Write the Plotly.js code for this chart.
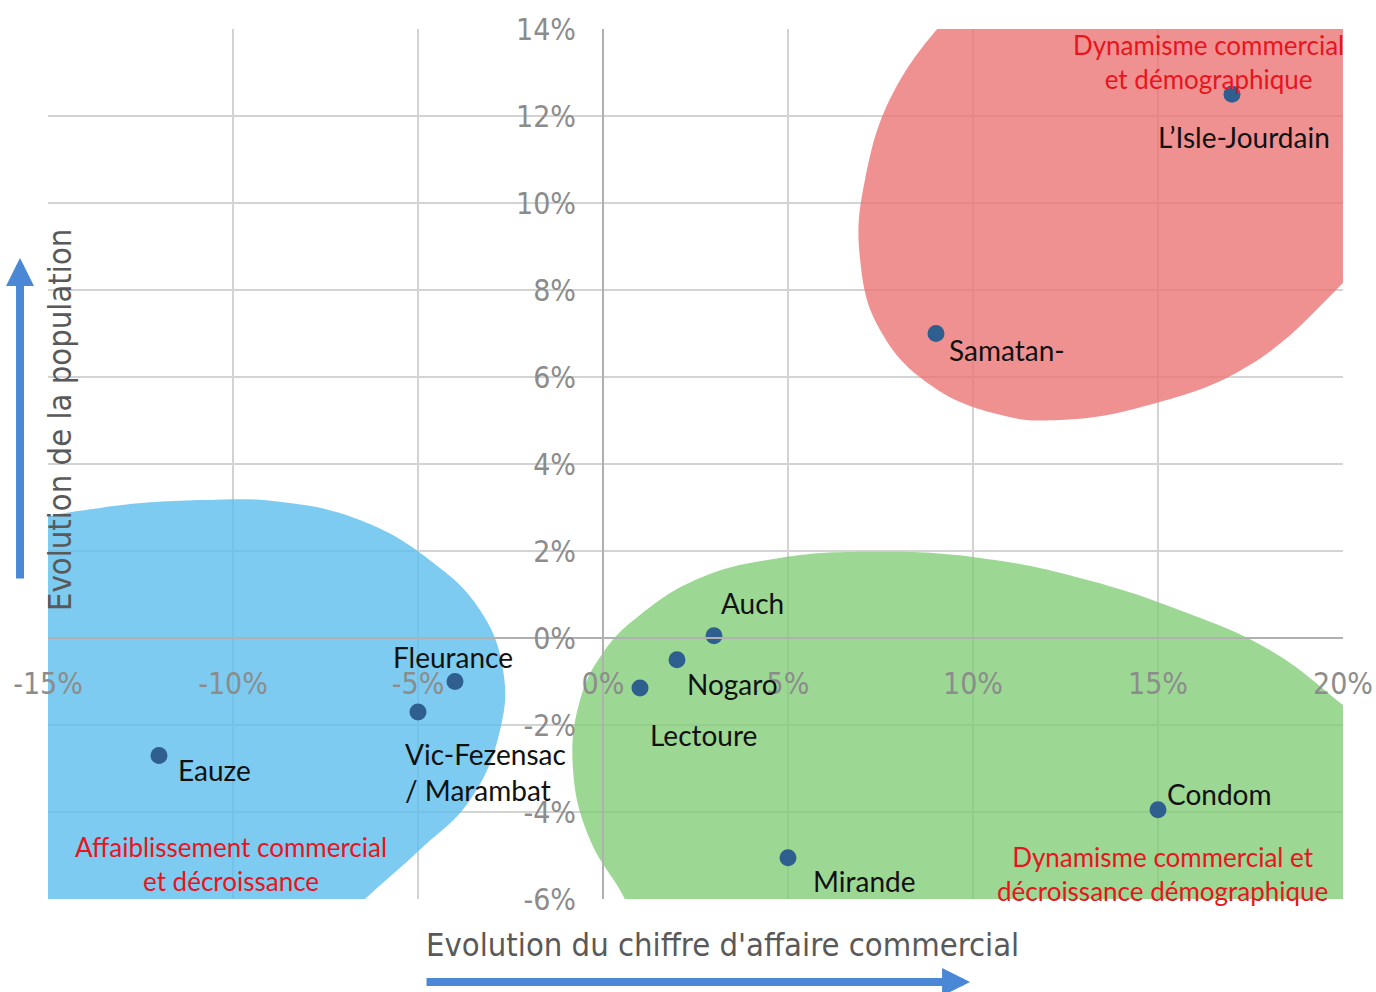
<!DOCTYPE html>
<html>
<head>
<meta charset="utf-8">
<script src="https://cdn.plot.ly/plotly-3.0.1.min.js"></script>
<style>html,body{margin:0;padding:0;background:#fff;}#chart{width:1376px;height:992px;}</style>
</head>
<body>
<div id="chart"></div>
<script>
// ---- Data ----
const towns = ["L\u2019Isle-Jourdain", "Samatan-", "Auch", "Nogaro", "Lectoure", "Fleurance", "Vic-Fezensac<br>/ Marambat", "Eauze", "Mirande", "Condom"];
const caEvolution = [17, 9, 3, 2, 1, -4, -5, -12, 5, 15];          // % change in commercial turnover
const popEvolution = [12.5, 7, 0.05, -0.5, -1.15, -1.0, -1.7, -2.7, -5.05, -3.95]; // % change in population

const xTickValues = [-15, -10, -5, 0, 5, 10, 15, 20];
const yTickValues = [-6, -4, -2, 0, 2, 4, 6, 8, 10, 12, 14];

const zoneLabels = [
  "Dynamisme commercial<br>et démographique",
  "Affaiblissement commercial<br>et décroissance",
  "Dynamisme commercial et<br>décroissance démographique"
];
const xTitle = "Evolution du chiffre d'affaire commercial";
const yTitle = "Evolution de la population";

// zone outlines (data units)
const redZoneX = [10.3, 8.03, 7.08, 6.95, 7.49, 8.84, 10.73, 12.35, 14.78, 17.49, 20.0, 21.54, 22.08, 18.84, 13.43];
const redZoneY = [15.13, 12.83, 10.53, 8.69, 7.08, 5.82, 5.13, 5.01, 5.36, 6.28, 8.16, 9.61, 13.52, 15.59, 16.05];
const blueZoneX = [-17.65, -15.76, -13.59, -10.89, -8.73, -6.57, -4.68, -3.32, -2.70, -2.78, -3.59, -4.95, -6.43, -8.19, -17.65];
const blueZoneY = [1.79, 2.60, 2.99, 3.17, 3.13, 2.71, 1.79, 0.64, -0.74, -2.11, -3.72, -4.87, -6.0, -7.40, -7.86];
const greenZoneX = [22.08, 1.27, 0.59, -0.35, -0.81, -0.62, 0.05, 1.0, 2.62, 4.78, 7.49, 10.19, 12.89, 15.59, 18.03, 20.0, 22.08];
const greenZoneY = [-7.86, -7.40, -6.0, -4.64, -3.03, -1.43, -0.28, 0.53, 1.38, 1.84, 1.98, 1.84, 1.38, 0.64, -0.28, -1.54, -3.03];

// ---- label placement (pixels) ----
const labelPlacement = [
  {xanchor: 'center', xshift: 12, yshift: -43},
  {xanchor: 'left', xshift: 11, yshift: -16},
  {xanchor: 'left', xshift: 5, yshift: 33},
  {xanchor: 'left', xshift: 8, yshift: -24},
  {xanchor: 'left', xshift: 8, yshift: -47},
  {xanchor: 'center', xshift: -2, yshift: 25},
  {xanchor: 'left', xshift: -15, yshift: -60},
  {xanchor: 'left', xshift: 17, yshift: -15},
  {xanchor: 'left', xshift: 23, yshift: -23},
  {xanchor: 'left', xshift: 7, yshift: 16}
];

function zone(x, y, color) {
  return {x: x, y: y, type: 'scatter', mode: 'lines', fill: 'toself', fillcolor: color,
          line: {width: 0, shape: 'spline', smoothing: 1.2}, hoverinfo: 'skip', showlegend: false};
}

const traces = [
  zone(redZoneX, redZoneY, 'rgba(236,118,118,0.8)'),
  zone(blueZoneX, blueZoneY, 'rgba(92,190,236,0.8)'),
  zone(greenZoneX, greenZoneY, 'rgba(128,204,118,0.78)'),
  {x: caEvolution, y: popEvolution, type: 'scatter', mode: 'markers',
   marker: {size: 17, color: '#2E5F8E'}, showlegend: false, hoverinfo: 'skip'}
];

const labelFont = {family: 'Lato, "Open Sans", sans-serif', size: 28, color: '#111111'};
const zoneFont = {family: 'Lato, "Open Sans", sans-serif', size: 26, color: '#E8141E'};
const tickFont = {family: '"Liberation Sans Narrow", "DejaVu Sans Condensed", sans-serif', size: 30, color: '#8C8C8C'};
const titleFont = {family: '"Liberation Sans Narrow", "DejaVu Sans Condensed", sans-serif', size: 32.5, color: '#595959'};

const annotations = [];
towns.forEach((t, i) => {
  const p = labelPlacement[i];
  annotations.push({x: caEvolution[i], y: popEvolution[i], xref: 'x', yref: 'y', text: t,
    showarrow: false, xanchor: p.xanchor, yanchor: 'middle', xshift: p.xshift, yshift: p.yshift,
    align: 'left', font: labelFont});
});
const zonePos = [
  {x: 0.8958, y: 0.962}, {x: 0.1413, y: 0.0402}, {x: 0.861, y: 0.0287}
];
zoneLabels.forEach((t, i) => {
  annotations.push({x: zonePos[i].x, y: zonePos[i].y, xref: 'paper', yref: 'paper', text: t,
    showarrow: false, xanchor: 'center', yanchor: 'middle', align: 'center', font: zoneFont});
});
annotations.push({x: 0.5205, y: -0.0529, xref: 'paper', yref: 'paper', text: xTitle, showarrow: false,
  xanchor: 'center', yanchor: 'middle', font: titleFont});
annotations.push({x: 0.0093, y: 0.5506, xref: 'paper', yref: 'paper', text: yTitle, showarrow: false,
  textangle: -90, xanchor: 'center', yanchor: 'middle', font: titleFont});
// blue direction arrows
annotations.push({x: -0.0216, y: 0.7368, xref: 'paper', yref: 'paper', text: '', showarrow: true,
  ax: 0, ay: 322, arrowhead: 2, arrowsize: 0.7, arrowwidth: 8, arrowcolor: '#4A88D6'});
annotations.push({x: 0.712, y: -0.0954, xref: 'paper', yref: 'paper', text: '', showarrow: true,
  ax: -545, ay: 0, arrowhead: 2, arrowsize: 0.7, arrowwidth: 8, arrowcolor: '#4A88D6'});

const layout = {
  width: 1376, height: 992,
  margin: {l: 48, r: 33, t: 29, b: 93, pad: 0},
  paper_bgcolor: '#ffffff', plot_bgcolor: '#ffffff',
  showlegend: false,
  xaxis: {range: [-15, 20], tickvals: xTickValues, ticktext: xTickValues.map(v => v + '%'),
    anchor: 'free', position: 0.3, showgrid: true, gridcolor: '#D3D3D3', gridwidth: 1.5,
    zeroline: false, showline: true, linecolor: '#B0B0B0', linewidth: 2, ticks: '',
    ticklabelstandoff: 19, tickfont: tickFont, fixedrange: true},
  yaxis: {range: [-6, 14], tickvals: yTickValues, ticktext: yTickValues.map(v => v + '%'),
    anchor: 'free', position: 15 / 35, showgrid: true, gridcolor: '#D3D3D3', gridwidth: 1.5,
    zeroline: false, showline: true, linecolor: '#B0B0B0', linewidth: 2, ticks: '',
    ticklabelstandoff: 20, tickfont: tickFont, fixedrange: true},
  annotations: annotations
};

Plotly.newPlot('chart', traces, layout, {displayModeBar: false, staticPlot: true});
</script>
</body>
</html>
